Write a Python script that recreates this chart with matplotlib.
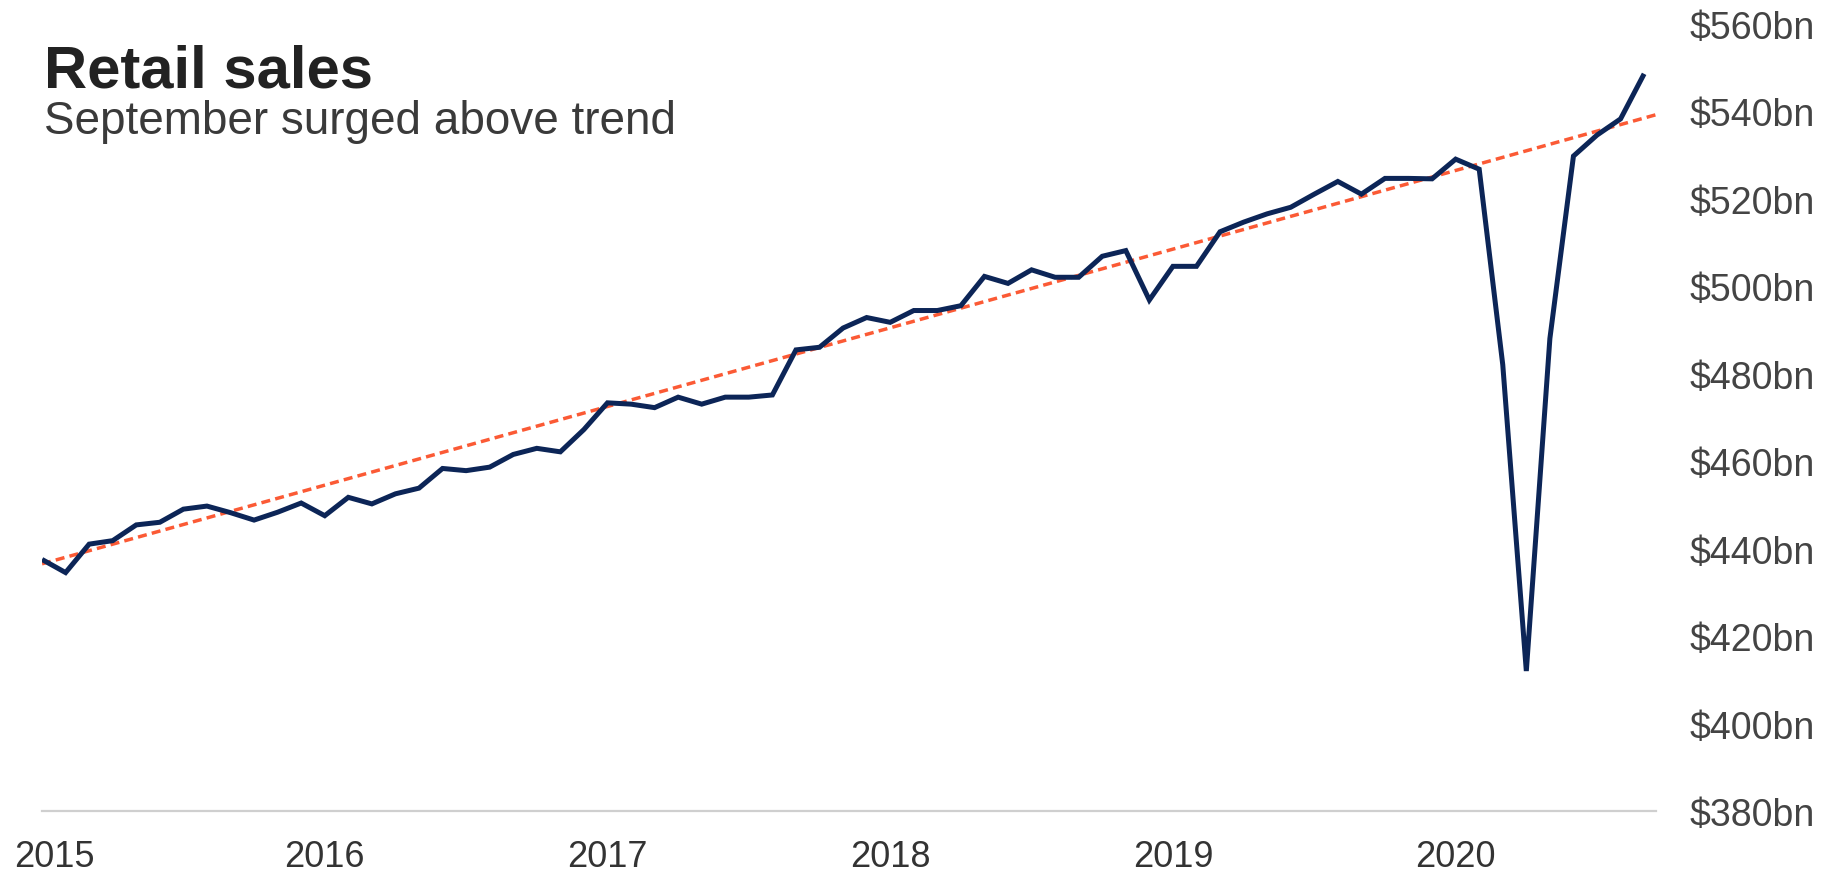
import numpy as np
import matplotlib.pyplot as plt
import matplotlib.transforms as mtransforms
from matplotlib.ticker import FuncFormatter

plt.rcParams['font.family'] = ['Liberation Sans', 'DejaVu Sans']

# monthly retail sales, $bn, Jan 2015 - Sep 2020
sales = [437.5, 434.5, 441.0, 441.8, 445.4, 446.0, 449.0, 449.7, 448.2, 446.5, 448.3, 450.4,
         447.5, 451.7, 450.2, 452.5, 453.8, 458.3, 457.8, 458.6, 461.5, 462.9, 462.1, 467.2,
         473.3, 473.0, 472.2, 474.6, 473.0, 474.6, 474.6, 475.1, 485.4, 486.0, 490.4, 492.8,
         491.7, 494.4, 494.4, 495.5, 502.2, 500.6, 503.7, 502.0, 502.0, 506.8, 508.1, 496.8,
         504.5, 504.5, 512.4, 514.6, 516.5, 518.0, 521.0, 523.9, 521.0, 524.6, 524.6, 524.5,
         529.0, 526.7, 482.0, 412.0, 488.0, 529.7, 534.5, 538.2, 548.5]
years = ['2015', '2016', '2017', '2018', '2019', '2020']
# trend line values at first and last month
trend_start = 436.5
trend_end = 538.4
yticks = [380, 400, 420, 440, 460, 480, 500, 520, 540, 560]

x = np.arange(len(sales))

fig = plt.figure(figsize=(18.35, 8.79), dpi=100)
ax = fig.add_axes([0.0229, 0.0762, 0.8795, 0.8959])

# trend, extended to right edge
x_end = 68.6
slope = (trend_end - trend_start) / (len(sales) - 1)
ax.plot([0, x_end], [trend_start, trend_start + slope * x_end],
        color='#fb5a35', lw=2.5, dashes=(2.6, 1.5), zorder=2)
ax.plot(x, sales, color='#0c2557', lw=3.6, solid_joinstyle='miter',
        solid_capstyle='butt', zorder=3)

ax.set_xlim(0, 68.5)
ax.set_ylim(380, 560)

for s in ['top', 'left', 'right']:
    ax.spines[s].set_visible(False)
ax.spines['bottom'].set_color('#cfcfcf')
ax.spines['bottom'].set_linewidth(1.6)

ax.set_xticks([12 * i for i in range(len(years))])
ax.set_xticklabels(years)
ax.yaxis.tick_right()
ax.set_yticks(yticks)
ax.yaxis.set_major_formatter(FuncFormatter(lambda v, p: '$%dbn' % v))
ax.tick_params(axis='x', length=0, pad=20, labelsize=26, labelcolor='#333333')
ax.tick_params(axis='y', length=0, pad=24, labelsize=27, labelcolor='#444444')

# keep the first year label inside the figure
first = ax.get_xticklabels()[0]
first.set_transform(first.get_transform() +
                    mtransforms.ScaledTranslation(0.12, 0, fig.dpi_scale_trans))

fig.text(0.024, 0.901, 'Retail sales', fontsize=43, fontweight='bold',
         color='#222222', va='baseline')
fig.text(0.024, 0.847, 'September surged above trend', fontsize=33,
         color='#3a3a3a', va='baseline')

fig.savefig('out.png', dpi=100)
